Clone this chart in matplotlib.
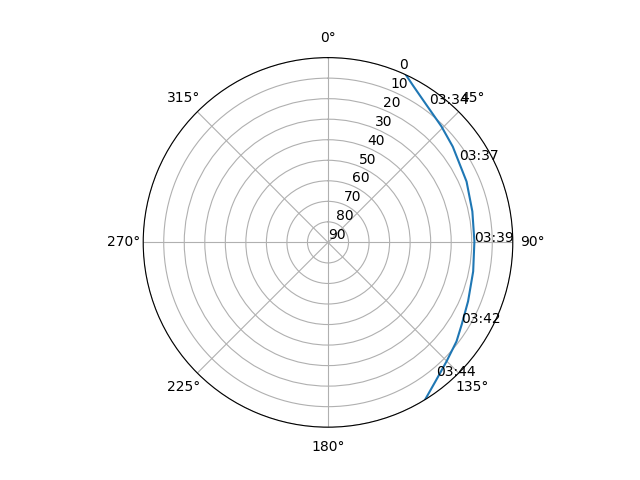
import numpy as np
import matplotlib
matplotlib.use("Agg")
import matplotlib.pyplot as plt

# satellite pass track (azimuth deg, elevation deg)
track_az = [24.9, 28.7, 35.5, 44.4, 52.5, 66.3, 77.9, 89.6, 101.3, 112.8,
            121.5, 127.6, 135.1, 142.2, 148.3]
track_el = [0.0, 3.3, 7.6, 11.0, 13.4, 16.3, 18.1, 18.7, 17.9, 16.0,
            13.6, 11.0, 8.2, 4.5, 0.0]

# time labels along the pass
label_times = ["03:34", "03:37", "03:39", "03:42", "03:44"]
label_az = [36.2, 58.0, 90.0, 121.3, 141.1]
label_el = [6.6, 14.6, 19.0, 14.3, 6.3]

r_ticks = list(range(0, 91, 10))

fig = plt.figure(figsize=(6.4, 4.8), dpi=100)
ax = fig.add_subplot(projection="polar")
ax.set_theta_zero_location("N")
ax.set_theta_direction(-1)

ax.plot(np.radians(track_az), track_el)
for t, a, e in zip(label_times, label_az, label_el):
    ax.text(np.radians(a), e, t)

ax.set_ylim(90, 0)
ax.set_yticks(r_ticks)

fig.savefig("out.png")
